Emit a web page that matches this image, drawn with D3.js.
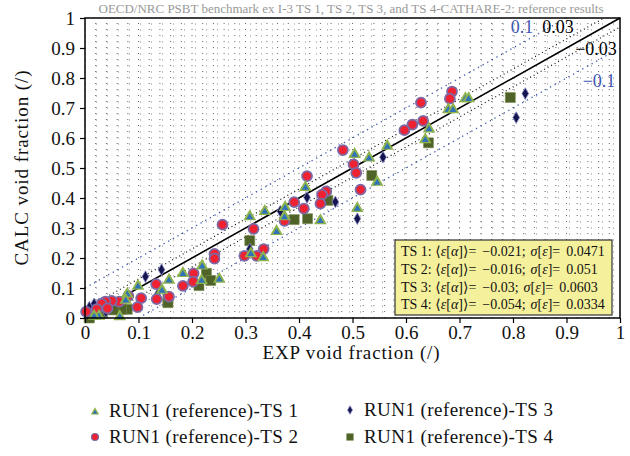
<!DOCTYPE html>
<html>
<head>
<meta charset="utf-8">
<script src="https://cdn.jsdelivr.net/npm/d3@7"></script>
<style>
  body { margin: 0; background: #fff; }
  svg text { font-family: "Liberation Serif", "Times New Roman", "DejaVu Serif", serif; }
</style>
</head>
<body>
<svg id="chart" width="630" height="456"></svg>
<script>
// [EXP, CALC] pairs
const ts1 = [
  [0.711,0.735],[0.717,0.735],[0.679,0.698],[0.688,0.698],[0.643,0.634],[0.636,0.598],
  [0.565,0.576],[0.504,0.549],[0.531,0.537],[0.546,0.456],[0.509,0.369],[0.412,0.439],
  [0.374,0.372],[0.336,0.359],[0.373,0.341],[0.440,0.328],[0.308,0.341],[0.358,0.292],
  [0.310,0.218],[0.333,0.205],[0.219,0.177],[0.183,0.152],[0.251,0.133],[0.218,0.129],
  [0.157,0.130],[0.144,0.096],[0.099,0.110],[0.079,0.083],[0.076,0.063],[0.065,0.008],
  [0.026,0.010],[0.017,0.010]
];
const ts2 = [
  [0.686,0.755],[0.682,0.731],[0.628,0.718],[0.632,0.657],[0.612,0.645],[0.597,0.626],
  [0.482,0.560],[0.502,0.512],[0.507,0.484],[0.515,0.428],[0.415,0.473],[0.451,0.422],
  [0.443,0.411],[0.440,0.381],[0.391,0.386],[0.409,0.365],[0.373,0.324],[0.257,0.311],
  [0.315,0.297],[0.334,0.230],[0.298,0.207],[0.321,0.207],[0.242,0.214],[0.242,0.198],
  [0.203,0.149],[0.202,0.121],[0.183,0.107],[0.133,0.113],[0.157,0.071],[0.134,0.063],
  [0.105,0.066],[0.098,0.036],[0.081,0.074],[0.064,0.055],[0.050,0.057],[0.038,0.055],
  [0.031,0.047],[0.042,0.032],[0.022,0.030],[0.002,0.021]
];
const ts3 = [
  [0.823,0.748],[0.806,0.668],[0.557,0.536],[0.509,0.331],[0.415,0.402],[0.468,0.387],
  [0.365,0.356],[0.308,0.230],[0.143,0.161],[0.113,0.138],[0.135,0.077],[0.050,0.055],
  [0.041,0.043],[0.026,0.047],[0.017,0.047],[0.008,0.036],[0.000,0.021],[0.039,0.021]
];
const ts4 = [
  [0.795,0.735],[0.642,0.584],[0.536,0.475],[0.454,0.392],[0.391,0.328],[0.416,0.331],
  [0.308,0.258],[0.227,0.149],[0.235,0.125],[0.213,0.108],[0.155,0.063],[0.155,0.051],
  [0.079,0.029],[0.068,0.029],[0.053,0.027],[0.033,0.016],[0.008,0.004],[0.008,0.000]
];

const seriesNames = ["RUN1 (reference)-TS 1", "RUN1 (reference)-TS 2", "RUN1 (reference)-TS 3", "RUN1 (reference)-TS 4"];
const statLabels = ["TS 1", "TS 2", "TS 3", "TS 4"];
const statMeans = ["\u22120.021", "\u22120.016", "\u22120.03", "\u22120.054"];
const statSigmas = ["0.0471", "0.051", "0.0603", "0.0334"];
const axisTicks = [0, 0.1, 0.2, 0.3, 0.4, 0.5, 0.6, 0.7, 0.8, 0.9, 1];
const refOffsets = [0.1, 0.03, -0.03, -0.1];
const refLabels = ["0.1", "0.03", "\u22120.03", "\u22120.1"];

const width = 630, height = 456;
const margin = { top: 18, right: 10, bottom: 138, left: 85 };

const svg = d3.select("#chart");

const x = d3.scaleLinear().domain([0, 1]).range([margin.left, width - margin.right]);
const y = d3.scaleLinear().domain([0, 1]).range([height - margin.bottom, margin.top]);

// title
svg.append("text")
  .attr("x", 351).attr("y", 13)
  .attr("text-anchor", "middle")
  .attr("fill", "#999")
  .attr("textLength", 505)
  .style("font-size", "13px")
  .text("OECD/NRC PSBT benchmark ex I-3 TS 1, TS 2, TS 3, and TS 4-CATHARE-2: reference results");

// dotted grid
const grid = d3.range(0, 1.0001, 0.02);
svg.append("g").selectAll("line")
  .data(grid.slice(1, -1))
  .join("line")
  .attr("x1", d => x(d)).attr("x2", d => x(d))
  .attr("y1", y(0)).attr("y2", y(1))
  .attr("stroke", "#666")
  .attr("stroke-width", 1)
  .attr("stroke-dasharray", "1,5");
svg.append("g").selectAll("line")
  .data(grid.slice(1, -1))
  .join("line")
  .attr("x1", x(0)).attr("x2", x(1))
  .attr("y1", d => y(d)).attr("y2", d => y(d))
  .attr("stroke", "#888")
  .attr("stroke-width", 1)
  .attr("stroke-dasharray", "1,10");

// reference lines y = x + offset
function refSeg(off) {
  const x0 = Math.max(0, -off), x1 = Math.min(1, 1 - off);
  return [[x0, x0 + off], [x1, x1 + off]];
}
const line = d3.line().x(d => x(d[0])).y(d => y(d[1]));
refOffsets.forEach(off => {
  const blue = Math.abs(off) > 0.05;
  svg.append("path")
    .attr("d", line(refSeg(off)))
    .attr("fill", "none")
    .attr("stroke", blue ? "#3c57b0" : "#111")
    .attr("stroke-width", blue ? 1.3 : 1.2)
    .attr("stroke-dasharray", blue ? "1.3,4" : "1,3");
});
svg.append("path")
  .attr("d", line([[0, 0], [1, 1]]))
  .attr("stroke", "#000")
  .attr("stroke-width", 1.6);

const refPos = [[522, 33], [558, 33], [596, 55], [599, 87]];
refLabels.forEach((t, i) => {
  svg.append("text")
    .attr("x", refPos[i][0]).attr("y", refPos[i][1])
    .attr("text-anchor", "middle")
    .attr("fill", Math.abs(refOffsets[i]) > 0.05 ? "#3c57b0" : "#000")
    .style("font-size", "18px")
    .text(t);
});

// markers
const triangle = d3.symbol().type(d3.symbolTriangle);
const diamond = d3.symbol().type(d3.symbolDiamond);
const square = d3.symbol().type(d3.symbolSquare);

function drawTri(g, cx, cy, s) {
  g.append("path").attr("transform", `translate(${cx},${cy + 1})`)
    .attr("d", triangle.size(s)()).attr("fill", "#8fb34d");
  g.append("path").attr("transform", `translate(${cx},${cy + 1.5})`)
    .attr("d", triangle.size(s * 0.3)()).attr("fill", "#2f72b8");
}
function drawCirc(g, cx, cy, r) {
  g.append("circle").attr("cx", cx).attr("cy", cy).attr("r", r)
    .attr("fill", "#ee2233").attr("stroke", "#7c6aa6").attr("stroke-width", r * 0.35);
}
function drawDia(g, cx, cy, s) {
  g.append("path").attr("transform", `translate(${cx},${cy})`)
    .attr("d", diamond.size(s)()).attr("fill", "#141450")
    .attr("stroke", "#9090c8").attr("stroke-width", 0.8);
}
function drawSq(g, cx, cy, s) {
  g.append("path").attr("transform", `translate(${cx},${cy})`)
    .attr("d", square.size(s)()).attr("fill", "#4f6228")
    .attr("stroke", "#7a8f52").attr("stroke-width", 0.6);
}

const marks = svg.append("g");
ts4.forEach(d => drawSq(marks, x(d[0]), y(d[1]), 100));
ts3.forEach(d => drawDia(marks, x(d[0]), y(d[1]), 40));
ts2.forEach(d => drawCirc(marks, x(d[0]), y(d[1]), 5));
ts1.forEach(d => drawTri(marks, x(d[0]), y(d[1]), 70));

// frame
svg.append("rect")
  .attr("x", x(0)).attr("y", y(1))
  .attr("width", x(1) - x(0)).attr("height", y(0) - y(1))
  .attr("fill", "none").attr("stroke", "#000").attr("stroke-width", 1.5);

// axes
const fmt = d => d === 0 ? "0" : d === 1 ? "1" : d3.format(".1f")(d);
const xAxis = svg.append("g")
  .attr("transform", `translate(0,${y(0)})`)
  .call(d3.axisBottom(x).tickValues(axisTicks).tickFormat(fmt).tickSize(5).tickPadding(3));
const yAxis = svg.append("g")
  .attr("transform", `translate(${x(0)},0)`)
  .call(d3.axisLeft(y).tickValues(axisTicks).tickFormat(fmt).tickSize(5).tickPadding(5));
[xAxis, yAxis].forEach(a => {
  a.attr("font-family", null).attr("font-size", null);
  a.select(".domain").remove();
  a.selectAll("line").attr("stroke", "#000").attr("stroke-width", 1.2);
  a.selectAll("text").attr("fill", "#111").style("font-size", "19px");
});

svg.append("text")
  .attr("x", 351).attr("y", 359)
  .attr("text-anchor", "middle")
  .attr("textLength", 177)
  .style("font-size", "19px").attr("fill", "#111")
  .text("EXP void fraction (/)");
svg.append("text")
  .attr("transform", "rotate(-90)")
  .attr("x", -168).attr("y", 28)
  .attr("text-anchor", "middle")
  .attr("textLength", 195)
  .style("font-size", "19px").attr("fill", "#111")
  .text("CALC void fraction (/)");

// stats box
const box = svg.append("g");
box.append("rect")
  .attr("x", 395).attr("y", 240).attr("width", 217).attr("height", 75)
  .attr("fill", "#f5f09c").attr("stroke", "#333").attr("stroke-width", 1.2);
statLabels.forEach((lab, i) => {
  const t = box.append("text")
    .attr("x", 401).attr("y", 256 + i * 17.8)
    .attr("font-size", 14).attr("fill", "#111");
  t.append("tspan").text(lab + ": \u27e8");
  t.append("tspan").style("font-style", "italic").text("\u03b5");
  t.append("tspan").text("[");
  t.append("tspan").style("font-style", "italic").text("\u03b1");
  t.append("tspan").text("]\u27e9=");
  t.append("tspan").attr("dx", 6).text(statMeans[i] + ";");
  t.append("tspan").attr("dx", 5).style("font-style", "italic").text("\u03c3");
  t.append("tspan").text("[");
  t.append("tspan").style("font-style", "italic").text("\u03b5");
  t.append("tspan").text("]=");
  t.append("tspan").attr("dx", 6).text(statSigmas[i]);
});

// legend
const legend = svg.append("g");
const legPos = [[95, 411], [95, 437], [350, 410], [350, 437]];
drawTri(legend, legPos[0][0], legPos[0][1], 30);
drawCirc(legend, legPos[1][0], legPos[1][1], 3.5);
drawDia(legend, legPos[2][0], legPos[2][1], 22);
drawSq(legend, legPos[3][0], legPos[3][1], 45);
seriesNames.forEach((n, i) => {
  legend.append("text")
    .attr("x", legPos[i][0] + 14).attr("y", legPos[i][1] + 6)
    .attr("textLength", 189)
    .style("font-size", "19px").attr("fill", "#111")
    .text(n);
});
</script>
</body>
</html>
